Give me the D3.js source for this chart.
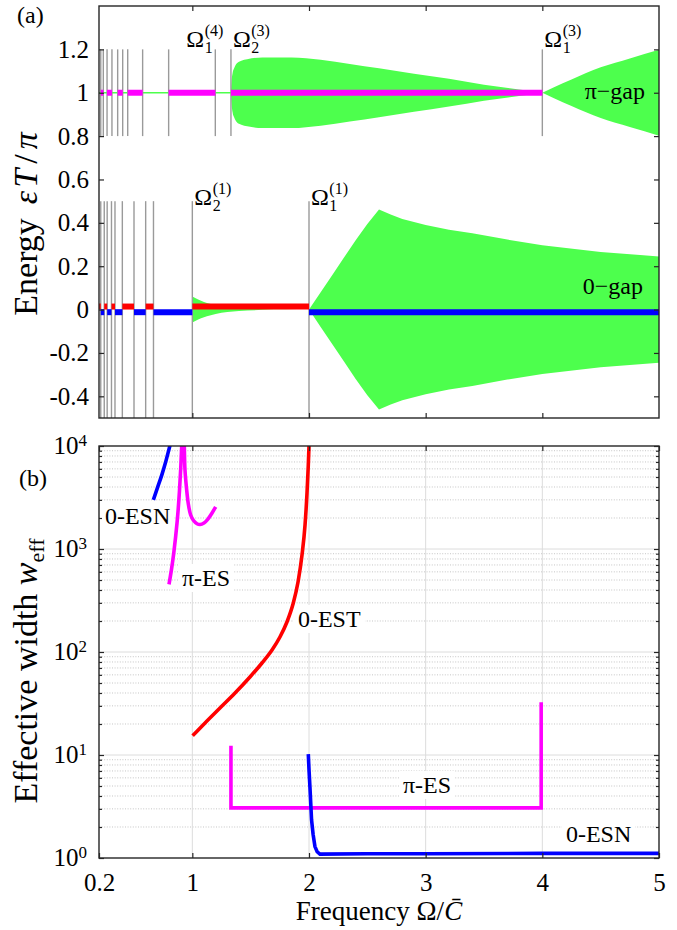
<!DOCTYPE html>
<html>
<head>
<meta charset="utf-8">
<script src="https://cdn.jsdelivr.net/npm/d3@7"></script>
<style>
  body { margin: 0; background: #fff; }
  svg text { font-family: "Liberation Serif", "Times New Roman", serif; fill: #000; }
</style>
</head>
<body>
<svg id="chart" width="677" height="930"></svg>
<script>
// ---------- data ----------
const xTicks = [0.2, 1, 2, 3, 4, 5];
const energyTicks = [-0.4, -0.2, 0, 0.2, 0.4, 0.6, 0.8, 1, 1.2];
const widthTicks = [1, 10, 100, 1000, 10000];

// resonance frequencies (gray vertical lines)
const piResonances = [0.215, 0.237, 0.269, 0.311, 0.36, 0.403, 0.446, 0.574, 0.797, 1.197, 1.331, 4];
const zeroResonances = [0.215, 0.245, 0.27, 0.307, 0.337, 0.4, 0.5, 0.6, 0.667, 1, 2];

// frequency intervals where edge states exist
const piStates = [[0.215, 0.237], [0.269, 0.311], [0.36, 0.403], [0.446, 0.574], [0.797, 1.197], [1.331, 4]];
const zeroTStates = [[0.2, 0.215], [0.245, 0.27], [0.307, 0.337], [0.4, 0.5], [0.6, 0.667], [1, 2]];
const zeroNStates = [[0.215, 0.245], [0.27, 0.307], [0.337, 0.4], [0.5, 0.6], [0.667, 1], [2, 5]];
const piLevel = 1, zeroTLevel = 0.014, zeroNLevel = -0.012;

// gap half-widths (energy units of pi)
const piGapAX = [1.331, 1.336, 1.345, 1.36, 1.38, 1.42, 1.47, 1.6, 1.85, 2.1, 2.35, 2.6, 2.9, 3.2, 3.5, 3.8, 4.0];
const piGapAHalf = [0, 0.05, 0.09, 0.115, 0.135, 0.148, 0.155, 0.163, 0.163, 0.152, 0.133, 0.113, 0.088, 0.064, 0.037, 0.015, 0];
const piGapBX = [4.0, 4.1, 4.25, 4.5, 4.75, 5.0];
const piGapBHalf = [0, 0.025, 0.061, 0.117, 0.158, 0.198];
const zeroLobeX = [1, 1.05, 1.1, 1.15, 1.2, 1.3, 1.4, 1.6, 1.8, 2];
const zeroLobeHalf = [0.06, 0.046, 0.035, 0.027, 0.02, 0.011, 0.006, 0.002, 0.0005, 0];
const zeroGapX = [2, 2.1, 2.2, 2.3, 2.4, 2.5, 2.6, 2.7, 2.8, 3.0, 3.2, 3.4, 3.7, 4.0, 4.5, 5.0];
const zeroGapHalf = [0, 0.08, 0.16, 0.24, 0.32, 0.395, 0.461, 0.438, 0.418, 0.39, 0.368, 0.352, 0.323, 0.297, 0.266, 0.245];

const omegaAt = [1.197, 1.331, 4, 1, 2];
const omegaSub = ["1", "2", "1", "2", "1"];
const omegaSup = ["(4)", "(3)", "(3)", "(1)", "(1)"];

// panel (b): effective widths
const esnAX = [0.666, 0.7, 0.74, 0.77, 0.8, 0.812];
const esnAW = [3000, 3900, 5300, 6900, 9300, 10500];
const piEsAX = [0.8, 0.82, 0.84, 0.87, 0.89, 0.909, 0.92, 0.931, 0.937, 0.95, 0.965, 0.985, 1.01, 1.04, 1.066, 1.1, 1.13, 1.165, 1.2];
const piEsAW = [454, 620, 900, 1850, 3700, 10000, 30000, 10000, 5850, 3900, 2770, 2150, 1890, 1760, 1730, 1790, 1930, 2200, 2570];
const estX = [1.003, 1.109, 1.237, 1.366, 1.494, 1.597, 1.683, 1.751, 1.811, 1.863, 1.906, 1.94, 1.966, 1.983, 1.994, 2.0];
const estW = [15.4, 20.5, 28.6, 40.0, 57.2, 78.2, 104.6, 139.8, 195.6, 292, 478, 874, 1710, 3500, 6540, 10000];
const piEsBX = [1.331, 1.331, 3.99, 3.99];
const piEsBW = [12.3, 3.07, 3.07, 32.5];
const esnBX = [1.994, 2.0, 2.008, 2.022, 2.035, 2.051, 2.07, 2.094, 2.5, 3, 4, 5];
const esnBW = [10.2, 7.2, 4.9, 2.34, 1.7, 1.29, 1.15, 1.09, 1.1, 1.1, 1.11, 1.11];

const curveNames = ["0-ESN", "π-ES", "0-EST", "π-ES", "0-ESN"];

// ---------- setup ----------
const svg = d3.select("#chart");
const x = d3.scaleLinear().domain([0.2, 5]).range([99, 659]);
const yE = d3.scaleLinear().domain([-0.5, 1.4]).range([418, 6]);
const yW = d3.scaleLog().domain([1, 1e4]).range([858, 446]);

const serif = '"Liberation Serif", "Times New Roman", serif';
const frameColor = "#262626";
const green = "#4dff4d";
const tickFont = "25px";

const defs = svg.append("defs");
defs.append("clipPath").attr("id", "clipA").append("rect")
    .attr("x", x.range()[0]).attr("y", yE.range()[1])
    .attr("width", x.range()[1] - x.range()[0]).attr("height", yE.range()[0] - yE.range()[1]);
defs.append("clipPath").attr("id", "clipB").append("rect")
    .attr("x", x.range()[0]).attr("y", yW.range()[1])
    .attr("width", x.range()[1] - x.range()[0]).attr("height", yW.range()[0] - yW.range()[1]);

function gapArea(center) {
    return d3.area()
        .x(d => x(d[0]))
        .y0(d => yE(center - d[1]))
        .y1(d => yE(center + d[1]));
}

function styleAxis(g) {
    g.attr("font-family", null);
    g.select(".domain").remove();
    g.selectAll(".tick line").attr("stroke", frameColor).attr("stroke-width", 1.2);
    g.selectAll(".tick text").style("font-size", tickFont).style("font-family", serif).attr("fill", "#000");
}

// ---------- panel (a) ----------
const ga = svg.append("g");
const plotA = ga.append("g").attr("clip-path", "url(#clipA)");

// gaps
plotA.append("path")
    .datum(d3.zip(piGapAX, piGapAHalf))
    .attr("d", gapArea(piLevel).curve(d3.curveMonotoneX))
    .attr("fill", green);
plotA.append("path")
    .datum(d3.zip(piGapBX, piGapBHalf))
    .attr("d", gapArea(piLevel).curve(d3.curveMonotoneX))
    .attr("fill", green);
plotA.append("path")
    .datum(d3.zip(zeroLobeX, zeroLobeHalf))
    .attr("d", gapArea(0).curve(d3.curveMonotoneX))
    .attr("fill", green);
plotA.append("path")
    .datum(d3.zip(zeroGapX, zeroGapHalf))
    .attr("d", gapArea(0))
    .attr("fill", green);

// closed pi-gap before the first gap opening
plotA.append("line")
    .attr("x1", x(0.2)).attr("x2", x(piGapAX[0]))
    .attr("y1", yE(piLevel)).attr("y2", yE(piLevel))
    .attr("stroke", green).attr("stroke-width", 1.3);

// resonance lines
plotA.selectAll(".res-pi")
    .data(piResonances)
    .enter().append("line")
    .attr("class", "res-pi")
    .attr("x1", d => x(d)).attr("x2", d => x(d))
    .attr("y1", yE(0.8)).attr("y2", yE(1.2))
    .attr("stroke", "#9a9a9a").attr("stroke-width", 1.4);
plotA.selectAll(".res-zero")
    .data(zeroResonances)
    .enter().append("line")
    .attr("class", "res-zero")
    .attr("x1", d => x(d)).attr("x2", d => x(d))
    .attr("y1", yE(-0.5)).attr("y2", yE(0.5))
    .attr("stroke", "#9a9a9a").attr("stroke-width", 1.4);

// edge-state bands
function bands(data, level, color) {
    plotA.selectAll(null)
        .data(data)
        .enter().append("line")
        .attr("x1", d => x(d[0])).attr("x2", d => x(d[1]))
        .attr("y1", yE(level)).attr("y2", yE(level))
        .attr("stroke", color).attr("stroke-width", 6);
}
bands(piStates, piLevel, "#ff00ff");
bands(zeroTStates, zeroTLevel, "#ff0000");
bands(zeroNStates, zeroNLevel, "#0000ff");

// axes (ticks inside)
ga.append("g")
    .attr("transform", `translate(${x.range()[0]},0)`)
    .call(d3.axisLeft(yE).tickValues(energyTicks).tickSize(-5).tickPadding(10).tickFormat(d => String(d)))
    .call(styleAxis);
ga.append("g")
    .attr("transform", `translate(${x.range()[1]},0)`)
    .call(d3.axisRight(yE).tickValues(energyTicks).tickSize(-5).tickFormat(""))
    .call(styleAxis);
ga.append("g")
    .attr("transform", `translate(0,${yE.range()[0]})`)
    .call(d3.axisBottom(x).tickValues(xTicks.slice(1, -1)).tickSize(-5).tickFormat(""))
    .call(styleAxis);
ga.append("g")
    .attr("transform", `translate(0,${yE.range()[1]})`)
    .call(d3.axisTop(x).tickValues(xTicks.slice(1, -1)).tickSize(-5).tickFormat(""))
    .call(styleAxis);
ga.append("rect")
    .attr("x", x.range()[0]).attr("y", yE.range()[1])
    .attr("width", x.range()[1] - x.range()[0]).attr("height", yE.range()[0] - yE.range()[1])
    .attr("fill", "none").attr("stroke", frameColor).attr("stroke-width", 1.4);

// Omega labels
function omegaLabel(px, py, sub, sup) {
    const t = ga.append("text").attr("x", px).attr("y", py).style("font-size", "24px").text("Ω");
    const w = t.node().getComputedTextLength();
    ga.append("text").attr("x", px + w + 0.5).attr("y", py + 6).style("font-size", "16px").text(sub);
    ga.append("text").attr("x", px + w + 0.5).attr("y", py - 11).style("font-size", "16px").text(sup);
}
omegaAt.forEach((f, i) => {
    const top = i < 3;
    const px = i === 0 ? x(f) - 29 : x(f) + 2;
    omegaLabel(px, top ? yE(1.2) - 2 : yE(0.5) + 4, omegaSub[i], omegaSup[i]);
});

ga.append("text").attr("x", x(5) - 14).attr("y", yE(piLevel) + 6)
    .attr("text-anchor", "end").style("font-size", "24px").text("π−gap");
ga.append("text").attr("x", x(5) - 16).attr("y", yE(0) - 16)
    .attr("text-anchor", "end").style("font-size", "24px").text("0−gap");

ga.append("text").attr("x", 17).attr("y", 23).style("font-size", "24px").text("(a)");

const yLabA = ga.append("text")
    .attr("transform", "translate(37,224) rotate(-90)")
    .attr("text-anchor", "middle").style("font-size", "34px");
yLabA.append("tspan").text("Energy");
yLabA.append("tspan").attr("dx", 14).style("font-style", "italic").text("ε");
yLabA.append("tspan").attr("dx", 3).style("font-style", "italic").text("T");
yLabA.append("tspan").attr("dx", 5).text("/");
yLabA.append("tspan").attr("dx", 5).style("font-style", "italic").text("π");

// ---------- panel (b) ----------
const gb = svg.append("g");

const minorW = [];
[1, 10, 100, 1000].forEach(dec => d3.range(2, 10).forEach(k => minorW.push(k * dec)));

// grid
gb.selectAll(".minor-grid")
    .data(minorW)
    .enter().append("line")
    .attr("x1", x.range()[0]).attr("x2", x.range()[1])
    .attr("y1", d => yW(d)).attr("y2", d => yW(d))
    .attr("stroke", "#b8b8b8").attr("stroke-width", 0.8).attr("stroke-dasharray", "1,1.6");
gb.selectAll(".major-grid")
    .data(widthTicks.slice(1, -1))
    .enter().append("line")
    .attr("x1", x.range()[0]).attr("x2", x.range()[1])
    .attr("y1", d => yW(d)).attr("y2", d => yW(d))
    .attr("stroke", "#dcdcdc").attr("stroke-width", 1);
gb.selectAll(".x-grid")
    .data(xTicks.slice(1, -1))
    .enter().append("line")
    .attr("x1", d => x(d)).attr("x2", d => x(d))
    .attr("y1", yW.range()[0]).attr("y2", yW.range()[1])
    .attr("stroke", "#dcdcdc").attr("stroke-width", 1);

// curve labels on white boxes
const labelAt = [[0.251, 1750], [0.911, 437], [1.905, 175], [2.805, 4.28], [4.202, 1.43]];
curveNames.forEach((name, i) => {
    const t = gb.append("text")
        .attr("x", x(labelAt[i][0])).attr("y", yW(labelAt[i][1]))
        .style("font-size", "24px").text(name);
    const bb = t.node().getBBox();
    gb.insert("rect", () => t.node())
        .attr("x", bb.x - 4).attr("y", bb.y - 1)
        .attr("width", bb.width + 8).attr("height", bb.height + 2)
        .attr("fill", "#fff");
});

// curves
const plotB = gb.append("g").attr("clip-path", "url(#clipB)");
const wLine = d3.line().x(d => x(d[0])).y(d => yW(d[1]));
function curve(xs, ws, color, c) {
    plotB.append("path")
        .datum(d3.zip(xs, ws))
        .attr("d", wLine.curve(c || d3.curveMonotoneX))
        .attr("fill", "none").attr("stroke", color)
        .attr("stroke-width", 3.6).attr("stroke-linejoin", "miter");
}
curve(esnAX, esnAW, "#0000ff");
curve(piEsAX, piEsAW, "#ff00ff", d3.curveCatmullRom);
curve(estX, estW, "#ff0000");
curve(piEsBX, piEsBW, "#ff00ff", d3.curveLinear);
curve(esnBX, esnBW, "#0000ff", d3.curveLinear);

// axes
gb.append("g")
    .attr("transform", `translate(${x.range()[0]},0)`)
    .call(d3.axisLeft(yW).tickValues(widthTicks).tickSize(-5).tickFormat(""))
    .call(styleAxis);
gb.append("g")
    .attr("transform", `translate(${x.range()[1]},0)`)
    .call(d3.axisRight(yW).tickValues(widthTicks).tickSize(-5).tickFormat(""))
    .call(styleAxis);
gb.append("g")
    .attr("transform", `translate(${x.range()[0]},0)`)
    .call(d3.axisLeft(yW).tickValues(minorW).tickSize(-3).tickFormat(""))
    .call(styleAxis);
gb.append("g")
    .attr("transform", `translate(${x.range()[1]},0)`)
    .call(d3.axisRight(yW).tickValues(minorW).tickSize(-3).tickFormat(""))
    .call(styleAxis);
gb.append("g")
    .attr("transform", `translate(0,${yW.range()[0]})`)
    .call(d3.axisBottom(x).tickValues(xTicks).tickSize(-5).tickPadding(15).tickFormat(d => String(d)))
    .call(styleAxis);
gb.append("g")
    .attr("transform", `translate(0,${yW.range()[1]})`)
    .call(d3.axisTop(x).tickValues(xTicks).tickSize(-5).tickFormat(""))
    .call(styleAxis);
gb.append("rect")
    .attr("x", x.range()[0]).attr("y", yW.range()[1])
    .attr("width", x.range()[1] - x.range()[0]).attr("height", yW.range()[0] - yW.range()[1])
    .attr("fill", "none").attr("stroke", frameColor).attr("stroke-width", 1.4);

// power-of-ten tick labels
widthTicks.forEach(v => {
    const t = gb.append("text")
        .attr("x", x.range()[0] - 12).attr("y", yW(v)).attr("dy", "0.32em")
        .attr("text-anchor", "end").style("font-size", tickFont);
    t.append("tspan").text("10");
    t.append("tspan").attr("dy", "-0.45em").style("font-size", "17px").text(String(Math.round(Math.log10(v))));
});

gb.append("text").attr("x", 19).attr("y", 486).style("font-size", "24px").text("(b)");

const yLabB = gb.append("text")
    .attr("transform", "translate(37,671) rotate(-90)")
    .attr("text-anchor", "middle").style("font-size", "34px");
yLabB.append("tspan").text("Effective width ");
yLabB.append("tspan").style("font-style", "italic").text("w");
yLabB.append("tspan").attr("dy", "0.3em").style("font-size", "22px").text("eff");

const xLab = svg.append("text")
    .attr("x", (x.range()[0] + x.range()[1]) / 2).attr("y", 920)
    .attr("text-anchor", "middle").style("font-size", "27px");
xLab.append("tspan").text("Frequency Ω/");
xLab.append("tspan").style("font-style", "italic").text("C\u0304");
</script>
</body>
</html>
